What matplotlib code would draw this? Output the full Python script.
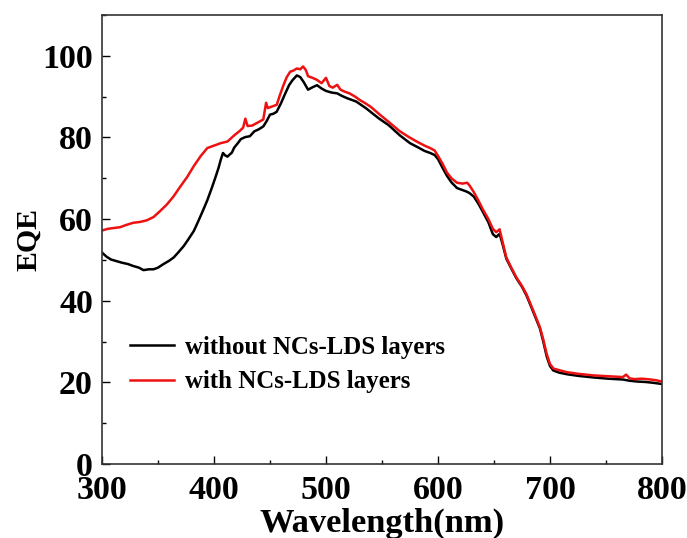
import matplotlib
matplotlib.use('Agg')
import matplotlib.pyplot as plt
from matplotlib.ticker import MultipleLocator

plt.rcParams['font.family'] = ['Liberation Serif', 'DejaVu Serif']
plt.rcParams['font.weight'] = 'bold'

# with NCs-LDS layers (red)
wl_with = [300, 305, 310, 316, 322, 328, 334, 340, 346, 352, 358, 364, 370, 376,
           382, 388, 394, 400, 406, 412, 418, 423, 426, 428, 430, 434, 440, 444,
           446.5, 448, 452, 456, 459, 462, 465, 468, 471, 474, 477, 479.5, 482,
           484, 488, 492, 496, 500, 503, 506, 510, 513, 516, 521, 526, 530, 535,
           540, 548, 556, 566, 574, 581, 588, 593, 597, 600, 604, 608, 612, 617,
           622, 626, 628, 632, 636, 640, 645, 649, 652, 655, 658, 661, 666, 670,
           675, 679, 685, 691, 694, 697, 700, 703, 708, 715, 725, 739, 752, 765,
           768, 771, 775, 782, 790, 795, 800]
eqe_with = [57.2, 57.6, 57.8, 58.0, 58.6, 59.1, 59.3, 59.7, 60.5, 62.0, 63.6, 65.6,
            68.0, 70.3, 73.0, 75.4, 77.4, 78.0, 78.6, 79.0, 80.5, 81.6, 82.4, 84.6,
            82.8, 82.9, 83.8, 84.4, 88.5, 87.2, 87.6, 88.0, 90.5, 92.8, 94.8, 96.1,
            96.4, 96.9, 96.7, 97.4, 96.5, 95.0, 94.6, 94.1, 93.3, 94.6, 92.6, 92.2,
            92.9, 91.7, 91.3, 90.8, 90.0, 89.2, 88.4, 87.5, 85.6, 83.8, 81.5, 80.1,
            79.0, 78.0, 77.4, 76.8, 75.5, 73.6, 71.4, 70.0, 68.9, 68.7, 68.9, 68.3,
            66.6, 64.6, 62.4, 60.0, 57.6, 56.8, 57.5, 54.0, 50.6, 47.8, 45.7, 43.6,
            41.6, 37.6, 33.5, 30.5, 27.0, 24.5, 23.4, 23.0, 22.5, 22.1, 21.7, 21.5,
            21.3, 21.9, 21.0, 20.8, 20.9, 20.7, 20.5, 20.2]

# without NCs-LDS layers (black)
wl_without = [300, 304, 308, 313, 318, 323, 328, 333, 337, 342, 346, 350, 355, 360,
              364, 368, 373, 377, 382, 386, 390, 394, 398, 401, 404, 406, 408, 410,
              412, 414, 416, 418, 421, 424, 428, 432, 436, 440, 444, 447, 450, 453,
              456, 460, 463, 467, 470, 474, 477, 480, 484, 488, 492, 496, 500, 505,
              510, 514, 519, 527, 536, 547, 556, 566, 575, 582, 588, 593, 597, 600,
              604, 608, 612, 617, 621, 625, 628, 632, 636, 640, 645, 649, 652, 655,
              658, 661, 666, 670, 675, 679, 685, 691, 694, 697, 700, 703, 708, 715,
              725, 739, 752, 765, 771, 778, 785, 792, 800]
eqe_without = [51.8, 50.8, 50.1, 49.7, 49.3, 49.0, 48.5, 48.1, 47.5, 47.7, 47.7, 48.1,
               49.0, 49.8, 50.6, 51.8, 53.4, 55.0, 57.1, 59.5, 62.0, 64.6, 67.6, 70.0,
               72.5, 74.5, 76.2, 75.6, 75.3, 75.8, 76.3, 77.5, 78.5, 79.6, 80.1, 80.3,
               81.5, 82.0, 82.7, 84.0, 85.6, 85.8, 86.3, 88.5, 90.4, 92.8, 94.0, 95.2,
               94.8, 93.6, 91.7, 92.3, 92.8, 92.0, 91.4, 91.0, 90.8, 90.2, 89.6, 88.8,
               87.1, 84.7, 83.0, 80.5, 78.6, 77.6, 76.7, 76.2, 75.7, 74.7, 72.6, 70.6,
               69.0, 67.6, 67.2, 66.8, 66.4, 65.5, 63.8, 61.8, 59.2, 56.3, 55.6, 56.4,
               53.5, 50.3, 47.6, 45.5, 43.4, 41.3, 37.3, 33.2, 30.0, 26.4, 24.0, 22.9,
               22.4, 22.0, 21.6, 21.2, 20.9, 20.7, 20.4, 20.2, 20.1, 19.9, 19.6]

fig = plt.figure(figsize=(6.87, 5.38), dpi=100)
ax = fig.add_axes([102/687, 1 - 464/538, 560/687, 449/538])

ax.plot(wl_without, eqe_without, color='black', lw=1.8, label='without NCs-LDS layers')
ax.plot(wl_with, eqe_with, color='#ee1111', lw=1.8, label='with NCs-LDS layers')

ax.set_xlim(300, 800)
ax.set_ylim(0, 110)
ax.xaxis.set_major_locator(MultipleLocator(100))
ax.xaxis.set_minor_locator(MultipleLocator(50))
ax.yaxis.set_major_locator(MultipleLocator(20))
ax.yaxis.set_minor_locator(MultipleLocator(10))
ax.tick_params(which='both', direction='in', top=False, right=False, width=1.0)
ax.tick_params(which='major', length=5.5, labelsize=24.5)
ax.tick_params(axis='x', which='major', pad=8)
ax.tick_params(axis='y', which='major', pad=6.5)
ax.tick_params(which='minor', length=3)
for s in ax.spines.values():
    s.set_linewidth(1.2)
    s.set_color('#333333')

ax.set_xlabel('Wavelength(nm)', fontsize=24.8, fontweight='bold', labelpad=1)
ax.set_ylabel('EQE', fontsize=21.5, fontweight='bold', labelpad=0)

ax.legend(loc='upper left', bbox_to_anchor=(0.05, 0.285), frameon=False,
          prop={'size': 17.9, 'weight': 'bold'}, handlelength=1.75,
          handletextpad=0.45, labelspacing=0.45, borderpad=0, borderaxespad=0)

fig.savefig('out.png', dpi=100)
